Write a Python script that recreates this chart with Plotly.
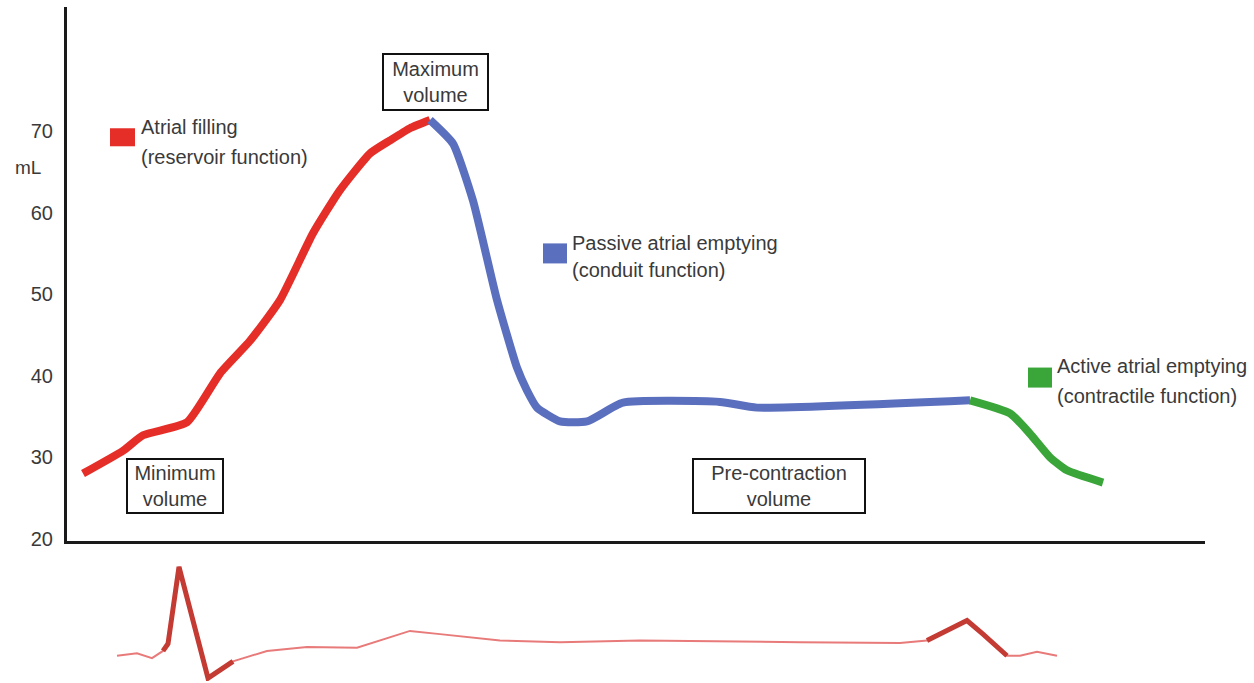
import plotly.graph_objects as go

# ---------------- data ----------------
# time axis (ms, arbitrary origin) and left-atrial volume (mL)
filling_t = [16, 56, 76, 120, 153, 183, 213, 246, 273, 303, 323, 343, 363]
filling_v = [28.0, 30.8, 32.7, 34.3, 40.3, 44.3, 49.3, 57.5, 62.8, 67.3, 68.9, 70.4, 71.4]

passive_t = [363, 386, 406, 430, 450, 460, 470, 493, 520, 556, 653, 690, 903]
passive_v = [71.4, 68.5, 61.5, 49.3, 41.0, 38.2, 36.1, 34.4, 34.4, 36.7, 36.8, 36.1, 37.0]

active_t = [903, 943, 963, 983, 1000, 1036]
active_v = [37.0, 35.4, 32.9, 30.0, 28.4, 26.9]

# ECG trace (mV)
ecg_t = [50, 70, 85, 96, 101, 112, 141, 166, 200, 240, 290, 308, 343, 373, 433, 493,
         573, 733, 833, 860, 900, 916, 940, 953, 970, 990]
ecg_mv = [-0.11, -0.08, -0.14, -0.05, 0.04, 1.0, -0.39, -0.18, -0.05, 0.0, -0.01, 0.06,
          0.2, 0.16, 0.08, 0.06, 0.08, 0.06, 0.05, 0.08, 0.33, 0.16, -0.11, -0.11, -0.06, -0.11]
qrs_idx = (3, 8)      # emphasised QRS segment
pwave_idx = (19, 23)  # emphasised atrial wave segment

y_ticks = [20, 30, 40, 50, 60, 70]

RED = "#e62e28"
BLUE = "#5b6fbf"
GREEN = "#3aa63a"
TXT = "#3a3a3a"
FONT = "Liberation Sans, Arial, sans-serif"

W, H = 1254, 693
K = 693 / 683  # vertical layout factor
ML, MR, MT, MB = 67, 49, 7, 3
PLOT_W = W - ML - MR
PLOT_H = H - MT - MB


def px(xp):
    return (xp - ML) / PLOT_W


def py(yp):
    return (H - MB - yp * K) / PLOT_H


fig = go.Figure()

for t, v, c in [(filling_t, filling_v, RED), (passive_t, passive_v, BLUE), (active_t, active_v, GREEN)]:
    fig.add_trace(go.Scatter(x=t, y=v, mode="lines",
                             line=dict(color=c, width=8, shape="spline", smoothing=0.5),
                             hoverinfo="skip", showlegend=False))

# ECG
fig.add_trace(go.Scatter(x=ecg_t, y=ecg_mv, yaxis="y2", mode="lines",
                         line=dict(color="#e87a7a", width=2),
                         hoverinfo="skip", showlegend=False))
for a, b in [qrs_idx, pwave_idx]:
    fig.add_trace(go.Scatter(x=ecg_t[a:b], y=ecg_mv[a:b], yaxis="y2", mode="lines",
                             line=dict(color="#c43b34", width=5),
                             hoverinfo="skip", showlegend=False))

annotations = []
shapes = []

# legend-like labels
legend_items = [
    (RED, (110, 135, 128, 146), 139, [("Atrial filling", 127), ("(reservoir function)", 157)]),
    (BLUE, (543, 567, 243, 263), 570, [("Passive atrial emptying", 243), ("(conduit function)", 270)]),
    (GREEN, (1028, 1052, 367, 387), 1055, [("Active atrial emptying", 365), ("(contractile function)", 395)]),
]
for color, (x0, x1, y0, y1), tx, lines in legend_items:
    shapes.append(dict(type="rect", xref="paper", yref="paper",
                       x0=px(x0), x1=px(x1), y0=py(y1), y1=py(y0),
                       fillcolor=color, line=dict(width=0)))
    for text, ty in lines:
        annotations.append(dict(text=text, xref="paper", yref="paper", x=px(tx), y=py(ty),
                                xanchor="left", yanchor="middle", showarrow=False,
                                font=dict(family=FONT, size=20, color=TXT)))

# boxed labels
boxes = [
    ("Maximum<br>volume", 382, 489, 53, 110),
    ("Minimum<br>volume", 126, 224, 458, 513),
    ("Pre-contraction<br>volume", 692, 866, 458, 513),
]
for text, x0, x1, y0, y1 in boxes:
    annotations.append(dict(text=text, xref="paper", yref="paper",
                            x=px((x0 + x1) / 2), y=py((y0 + y1) / 2),
                            xanchor="center", yanchor="middle", showarrow=False,
                            width=x1 - x0 - 4, height=(y1 - y0) * K - 4, borderpad=0,
                            bordercolor="#111111", borderwidth=2, bgcolor="white",
                            font=dict(family=FONT, size=20, color=TXT)))

# unit label
annotations.append(dict(text="mL", xref="paper", yref="paper", x=px(13), y=py(167),
                        xanchor="left", yanchor="middle", showarrow=False,
                        font=dict(family=FONT, size=19, color=TXT)))

fig.update_layout(
    width=W, height=H,
    margin=dict(l=ML, r=MR, t=MT, b=MB),
    paper_bgcolor="white", plot_bgcolor="white",
    showlegend=False,
    xaxis=dict(range=[0, 1138], showline=True, linecolor="#1a1a1a", linewidth=3,
               showticklabels=False, ticks="", showgrid=False, zeroline=False, anchor="y"),
    yaxis=dict(domain=[py(540), py(7)], range=[19.754, 85.265], showline=True,
               linecolor="#1a1a1a", linewidth=3, tickvals=y_ticks, ticks="",
               ticklabelstandoff=7,
               tickfont=dict(family=FONT, size=20, color=TXT),
               showgrid=False, zeroline=False),
    yaxis2=dict(domain=[0, py(555)], range=[-0.425, 1.1375], visible=False,
                anchor="x", showgrid=False, zeroline=False),
    annotations=annotations,
    shapes=shapes,
)

fig.write_html("out.html", config={"displayModeBar": False},
               post_script="document.body.style.margin='0';document.body.style.overflow='hidden';")
